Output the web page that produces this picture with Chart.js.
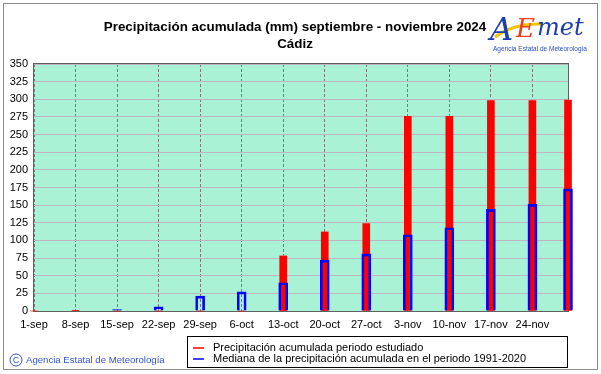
<!DOCTYPE html>
<html>
<head>
<meta charset="utf-8">
<script src="https://cdn.jsdelivr.net/npm/chart.js@4.4.1/dist/chart.umd.min.js"></script>
<style>
  html, body { margin: 0; padding: 0; background: #fff; }
  #wrap { width: 601px; height: 374px; }
</style>
</head>
<body>
<div id="wrap"><canvas id="chart" width="601" height="374"></canvas></div>
<script>
// day offsets from 1 september (last point = 30 november)
const days = [0, 7, 14, 21, 28, 35, 42, 49, 56, 63, 70, 77, 84, 90];
const tickLabels = ["1-sep", "8-sep", "15-sep", "22-sep", "29-sep", "6-oct", "13-oct",
  "20-oct", "27-oct", "3-nov", "10-nov", "17-nov", "24-nov"];
const precip = [0, 1, 0, 0, 0, 0, 78, 112, 124, 276, 276, 298, 298, 299];
const median = [0, 0, 2, 6, 21, 27, 40, 72, 81, 108, 118, 144, 151, 173];
const yTicks = [0, 25, 50, 75, 100, 125, 150, 175, 200, 225, 250, 275, 300, 325, 350];

const titleText = "Precipitación acumulada (mm) septiembre - noviembre 2024";
const subtitleText = "Cádiz";
const precipLabel = "Precipitación acumulada periodo estudiado";
const medianLabel = "Mediana de la precipitación acumulada en el periodo 1991-2020";

const FONT = '"Liberation Sans", Arial, sans-serif';

const decor = {
  id: "decor",
  beforeDraw(chart) {
    const { ctx, chartArea: a } = chart;
    ctx.save();
    ctx.fillStyle = "#fff";
    ctx.fillRect(0, 0, chart.width, chart.height);
    ctx.fillStyle = "#aaf2d6";
    ctx.fillRect(a.left, a.top, a.right - a.left, a.bottom - a.top);
    ctx.restore();
  },
  beforeDatasetsDraw(chart) {
    const { ctx, chartArea: a } = chart;
    ctx.save();
    ctx.strokeStyle = "#606060";
    ctx.lineWidth = 1;
    ctx.strokeRect(Math.round(a.left) - 0.5, Math.round(a.top) - 0.5,
      Math.round(a.right - a.left) + 1, Math.round(a.bottom - a.top) + 1);
    ctx.restore();
  },
  afterDraw(chart) {
    const ctx = chart.ctx;
    ctx.save();

    // outer frame
    ctx.strokeStyle = "#8c8c8c";
    ctx.lineWidth = 1;
    ctx.strokeRect(3.5, 3.5, 594, 366);

    // titles
    ctx.fillStyle = "#000";
    ctx.textAlign = "center";
    ctx.textBaseline = "middle";
    ctx.font = "bold 13.4px " + FONT;
    ctx.fillText(titleText, 295, 27);
    ctx.fillText(subtitleText, 295, 44);

    // logo
    ctx.strokeStyle = "#f5c400";
    ctx.lineWidth = 3;
    ctx.beginPath();
    ctx.moveTo(495, 37);
    ctx.quadraticCurveTo(514, 23, 542, 24);
    ctx.stroke();
    ctx.textAlign = "left";
    ctx.textBaseline = "alphabetic";
    ctx.font = "italic 32px \"DejaVu Serif\", serif";
    ctx.fillStyle = "#1a3fb0";
    ctx.fillText("A", 490, 40);
    ctx.fillStyle = "#e8401c";
    ctx.font = "italic 26px \"DejaVu Serif\", serif";
    ctx.fillText("E", 516, 37);
    ctx.fillStyle = "#1a3fb0";
    ctx.font = "italic 24px \"DejaVu Serif\", serif";
    ctx.fillText("met", 537, 35);
    ctx.font = "6.5px " + FONT;
    ctx.fillStyle = "#2a4fb8";
    ctx.fillText("Agencia Estatal de Meteorología", 493, 51);

    // legend box
    ctx.strokeStyle = "#000";
    ctx.lineWidth = 1;
    ctx.strokeRect(187.5, 336.5, 380, 31);
    ctx.lineWidth = 1.5;
    ctx.strokeStyle = "#ff0000";
    ctx.beginPath(); ctx.moveTo(193, 348); ctx.lineTo(204, 348); ctx.stroke();
    ctx.strokeStyle = "#0000ff";
    ctx.beginPath(); ctx.moveTo(193, 359); ctx.lineTo(204, 359); ctx.stroke();
    ctx.fillStyle = "#000";
    ctx.font = "11px " + FONT;
    ctx.textBaseline = "middle";
    ctx.fillText(precipLabel, 213, 348);
    ctx.fillText(medianLabel, 213, 359);

    // footer
    ctx.fillStyle = "#3355cc";
    ctx.font = "9.6px " + FONT;
    ctx.fillText("Agencia Estatal de Meteorología", 26, 360);
    ctx.strokeStyle = "#3355cc";
    ctx.lineWidth = 1;
    ctx.beginPath(); ctx.arc(16, 360, 6, 0, Math.PI * 2); ctx.stroke();
    ctx.font = "9px " + FONT;
    ctx.textAlign = "center";
    ctx.fillText("C", 16, 360.5);

    ctx.restore();
  }
};

new Chart(document.getElementById("chart"), {
  type: "bar",
  data: {
    datasets: [
      {
        label: medianLabel,
        data: median.map((v, i) => ({ x: days[i], y: v })),
        backgroundColor: "rgba(0,0,0,0)",
        borderColor: "#0000ff",
        borderWidth: 2,
        barThickness: 9,
        grouped: false,
        clip: false,
        order: 0,
      },
      {
        label: precipLabel,
        data: precip.map((v, i) => ({ x: days[i], y: v })),
        backgroundColor: "#ff0000",
        borderWidth: 0,
        barThickness: 7,
        grouped: false,
        clip: false,
        order: 1,
      },
    ],
  },
  options: {
    responsive: false,
    animation: false,
    devicePixelRatio: 1,
    layout: { padding: { left: 0, top: 64, right: 33, bottom: 38 } },
    scales: {
      x: {
        type: "linear",
        min: 0,
        max: 90,
        offset: false,
        afterBuildTicks: (s) => { s.ticks = tickLabels.map((_, i) => ({ value: days[i] })); },
        afterFit: (s) => { s.height = 25; },
        ticks: {
          autoSkip: false,
          maxRotation: 0,
          padding: 7,
          color: "#000",
          font: { family: FONT, size: 11 },
          callback: (v) => tickLabels[days.indexOf(v)],
        },
        grid: { color: "#7a7a7a", drawTicks: false, offset: false },
        border: { display: false, dash: [3, 2] },
      },
      y: {
        min: 0,
        max: 350,
        afterBuildTicks: (s) => { s.ticks = yTicks.map((v) => ({ value: v })); },
        afterFit: (s) => { s.width = 34; },
        ticks: {
          autoSkip: false,
          padding: 6,
          color: "#000",
          font: { family: FONT, size: 11 },
        },
        grid: { color: "#c0b4c0", drawTicks: false },
        border: { display: false },
      },
    },
    plugins: {
      legend: { display: false },
      tooltip: { enabled: false },
    },
  },
  plugins: [decor],
});
</script>
</body>
</html>
